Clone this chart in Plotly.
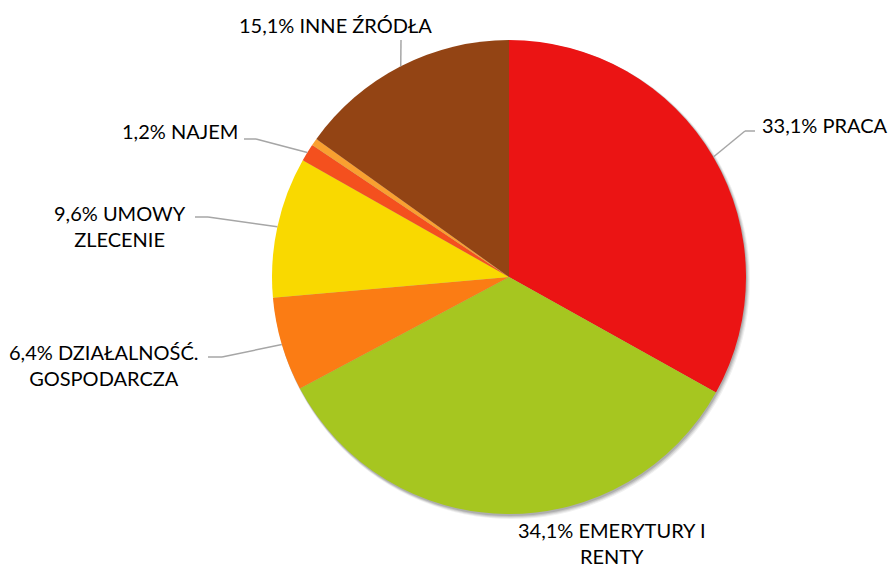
import math
import plotly.graph_objects as go

# Struktura źródeł dochodu (%)
categories = ["PRACA", "EMERYTURY I RENTY", "DZIAŁALNOŚĆ. GOSPODARCZA",
              "UMOWY ZLECENIE", "NAJEM", "POZOSTAŁE", "INNE ŹRÓDŁA"]
values = [33.1, 34.1, 6.4, 9.6, 1.2, 0.5, 15.1]
label_text = ["33,1% PRACA", "34,1% EMERYTURY I<br>RENTY", "6,4% DZIAŁALNOŚĆ.<br>GOSPODARCZA",
              "9,6% UMOWY<br>ZLECENIE", "1,2% NAJEM", None, "15,1% INNE ŹRÓDŁA"]
colors = ["#EB1414", "#A6C620", "#FB7C14", "#F9D900", "#F4501E", "#F9A030", "#934414"]

W, H = 892, 567
CX, CY, R = 509, 277, 237

def px(x):
    return x / W

def py(y):
    return 1 - y / H

# label layout: text anchor, elbow and end of the leader line, alignment
placement = {
    0: dict(tx=760, ty=125, xanchor="left", elbow=(745, 131), end=(755, 131)),
    1: dict(tx=612, ty=543, xanchor="center", elbow=None, end=None),
    2: dict(tx=103, ty=365, xanchor="center", elbow=(222, 357), end=(208, 357)),
    3: dict(tx=120, ty=226, xanchor="center", elbow=(208, 217), end=(195, 217)),
    4: dict(tx=240, ty=131, xanchor="right", elbow=(256, 139), end=(244, 139)),
    6: dict(tx=335, ty=25, xanchor="center", elbow=(401, 40), end=None),
}

fig = go.Figure(go.Pie(
    labels=categories,
    values=values,
    sort=False,
    direction="clockwise",
    rotation=0,
    marker=dict(colors=colors, line=dict(width=0)),
    textinfo="none",
    hoverinfo="label+percent",
    showlegend=False,
    domain=dict(x=[px(CX - R), px(CX + R)], y=[py(CY + R), py(CY - R)]),
))

shapes, annotations = [], []

# soft drop shadow under the pie
for k, op in [(4, 0.06), (3, 0.08), (2, 0.10), (1, 0.12)]:
    shapes.append(dict(type="circle", xref="paper", yref="paper", layer="below",
                       x0=px(CX - R + 1), x1=px(CX + R + k),
                       y0=py(CY + R + k + 1), y1=py(CY - R + 1),
                       fillcolor="#000000", opacity=op, line=dict(width=0)))

total = sum(values)
cum = 0.0
for i, v in enumerate(values):
    mid = (cum + v / 2) / total * 2 * math.pi
    cum += v
    if label_text[i] is None:
        continue
    p = placement[i]
    ax = CX + R * math.sin(mid)
    ay = CY - R * math.cos(mid)
    pts = [(ax, ay)]
    if p["elbow"]:
        pts.append(p["elbow"])
    if p["end"]:
        pts.append(p["end"])
    for (x0, y0), (x1, y1) in zip(pts[:-1], pts[1:]):
        shapes.append(dict(type="line", xref="paper", yref="paper",
                           x0=px(x0), y0=py(y0), x1=px(x1), y1=py(y1),
                           line=dict(color="#A6A6A6", width=1.5)))
    annotations.append(dict(text=label_text[i], x=px(p["tx"]), y=py(p["ty"]),
                            xref="paper", yref="paper", showarrow=False,
                            xanchor=p["xanchor"], yanchor="middle", align="center",
                            font=dict(family="Lato", size=20, color="#000000")))

fig.update_layout(
    width=W, height=H,
    margin=dict(l=0, r=0, t=0, b=0),
    paper_bgcolor="white",
    plot_bgcolor="white",
    shapes=shapes,
    annotations=annotations,
)

fig.write_html("out.html")
